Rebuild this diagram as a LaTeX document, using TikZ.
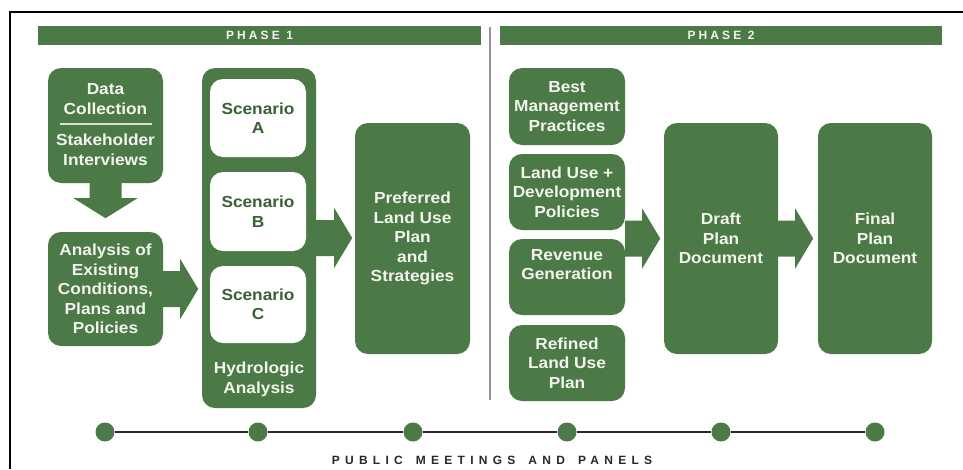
\documentclass[tikz,border=0pt]{standalone}
\usepackage{fontspec}
\setmainfont{Liberation Sans}[FakeStretch=1.08]
\newfontfamily\trackfont{Liberation Sans}[LetterSpace=26]
\newfontfamily\trackwidefont{Liberation Sans}[LetterSpace=44]
\usetikzlibrary{calc}

\definecolor{leaf}{RGB}{76,122,70}
\definecolor{leafdark}{RGB}{58,96,54}
\definecolor{paper}{RGB}{242,244,238}
\definecolor{rulegray}{RGB}{150,150,150}
\definecolor{ink}{RGB}{40,40,40}

\newcommand\bodyfont{\bfseries\fontsize{16}{19.5}\selectfont}
\newcommand\wordgap{\hspace*{13pt}}

% right-pointing block arrow: #1 start point, #2 total length
\newcommand\rarrow[2]{%
  \fill[leaf] ($#1+(0,-18)$) -- ++({#2-18},0) -- ++(0,-12) -- ($#1+(#2,0)$)
    -- ($#1+({#2-18},30)$) -- ++(0,-12) -- ($#1+(0,18)$) -- cycle;}

\tikzset{
  box/.style={fill=leaf, rounded corners=13pt, inner sep=0pt, text=paper,
    font=\bodyfont, align=center},
  scen/.style={box, fill=white, text=leafdark},
  txt/.style={inner sep=0pt, text=paper, font=\bodyfont, align=center},
  bar/.style={fill=leaf, inner sep=0pt, minimum height=19pt, text=paper,
    font=\trackfont\bfseries\fontsize{12}{13}\selectfont},
  dot/.style={circle, fill=leaf, minimum size=19pt, inner sep=0pt},
  link/.style={draw=ink, line width=2pt},
}

\begin{document}
\begin{tikzpicture}[x=1pt, y=-1pt]
\useasboundingbox (0,0) rectangle (963,469);
\fill[white] (0,0) rectangle (963,469);

% frame
\draw[black, line width=2pt] (963,12) -- (10,12) -- (10,469);

% phase headers and divider
\node[bar, minimum width=443pt] (p1) at (259.5,35.5) {PHASE 1};
\node[bar, minimum width=442pt] (p2) at (721,35.5) {PHASE 2};
\draw[rulegray, line width=2pt] (490,27) -- (490,400);

% phase 1
\node[box, minimum width=115pt, minimum height=115pt] (dc) at (105.5,125.5) {};
\node[txt] (dctop) at ($(dc.center)+(0,-26.5)$) {Data\\Collection};
\node[txt] (dcbot) at ($(dc.center)+(0,24.5)$) {Stakeholder\\Interviews};
\draw[paper!85!leaf, line width=2pt] ($(dc.center)+(-46,-2)$) -- ($(dc.center)+(46,-2)$);

\node[box, minimum width=115pt, minimum height=114pt] (an) at (105.5,289)
  {Analysis of\\Existing\\Conditions,\\Plans and\\Policies};

\node[box, minimum width=114pt, minimum height=340pt] (hyd) at (259,238) {};
\node[scen, minimum width=96pt, minimum height=78pt] (sa) at (258,118) {Scenario\\A};
\node[scen, minimum width=96pt, minimum height=79pt] (sb) at (258,211.5) {Scenario\\B};
\node[scen, minimum width=96pt, minimum height=77pt] (sc) at (258,304.5) {Scenario\\C};
\node[txt] (hydlbl) at ($(hyd.south)+(0,-29)$) {Hydrologic\\Analysis};

\node[box, minimum width=115pt, minimum height=231pt] (pref) at (412.5,238.5)
  {Preferred\\Land Use\\Plan\\and\\Strategies};

% phase 1 arrows
\fill[leaf] ($(dc.south)+(-16,-2)$) -- ++(0,17) -- ++(-16,0) -- ($(dc.south)+(0,35)$)
  -- ($(dc.south)+(32,15)$) -- ++(-16,0) -- ($(dc.south)+(16,-2)$) -- cycle;
\rarrow{(an.east)}{35}
\rarrow{(hyd.east)}{36}

% phase 2
\node[box, minimum width=116pt, minimum height=77pt] (bmp) at (567,106.5)
  {Best\\Management\\Practices};
\node[box, minimum width=116pt, minimum height=76pt] (lu) at (567,192)
  {Land Use +\\Development\\Policies};
\node[box, minimum width=116pt, minimum height=76pt] (rev) at (567,277)
  {Revenue\\Generation\\\strut};
\node[box, minimum width=116pt, minimum height=76pt] (rlu) at (567,363)
  {Refined\\Land Use\\Plan};

\node[box, minimum width=114pt, minimum height=231pt] (draft) at (721,238.5)
  {Draft\\Plan\\Document};
\node[box, minimum width=114pt, minimum height=231pt] (final) at (875,238.5)
  {Final\\Plan\\Document};

\coordinate (ls) at (lu.east |- draft.west);
\rarrow{(ls)}{35}
\rarrow{(draft.east)}{35}

% public meetings timeline
\node[dot] (m1) at (105,432) {};
\node[dot] (m2) at (258,432) {};
\node[dot] (m3) at (413,432) {};
\node[dot] (m4) at (567,432) {};
\node[dot] (m5) at (721,432) {};
\node[dot] (m6) at (875,432) {};
\draw[link] (m1) -- (m2);
\draw[link] (m2) -- (m3);
\draw[link] (m3) -- (m4);
\draw[link] (m4) -- (m5);
\draw[link] (m5) -- (m6);
\node[inner sep=0pt, text=ink, font=\trackwidefont\bfseries\fontsize{12}{13}\selectfont]
  (pm) at (492,460) {PUBLIC\wordgap MEETINGS\wordgap AND\wordgap PANELS};
\end{tikzpicture}
\end{document}
